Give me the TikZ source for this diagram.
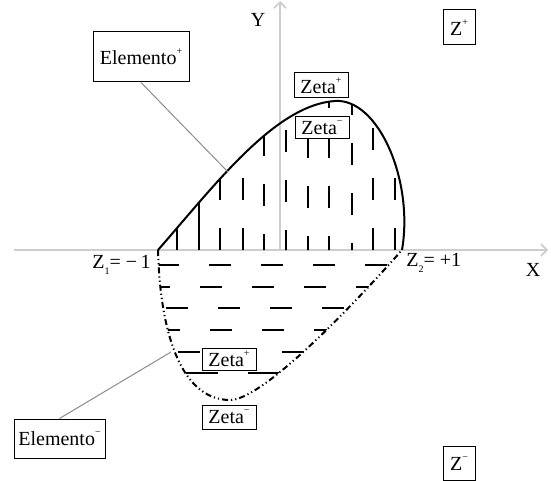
\documentclass[tikz,border=0pt]{standalone}
\usepackage{fontspec}
\setmainfont{Liberation Serif}
\definecolor{axisgray}{RGB}{205, 205, 205}
\definecolor{leadgray}{RGB}{140, 140, 140}
\usetikzlibrary{
    arrows.meta,
    positioning,
    calc
}
\newcommand{\upmark}[1]{\raisebox{1.1ex}{\fontsize{5}{5}\selectfont #1}}
\newcommand{\dnmark}[1]{\raisebox{-0.6ex}{\fontsize{5}{5}\selectfont #1}}
\tikzset{
    labelbox/.style={draw=black, line width=0.5pt, fill=white, inner sep=0.5pt,
        font=\fontsize{10}{12}\selectfont},
    plaintext/.style={inner sep=0pt, font=\fontsize{10}{12}\selectfont},
    hatchline/.style={line width=0.75pt},
    leader/.style={draw=leadgray, line width=0.5pt},
    axisline/.style={draw=axisgray, line width=0.8pt, -{Straight Barb[length=3pt,width=6pt]}}
}

\begin{document}
\begin{tikzpicture}[x=0.5pt, y=-0.5pt]
    \useasboundingbox (0,0) rectangle (551,481);

    % Axes
    \coordinate (O) at (280,250);
    \draw[axisline] (14,250) -- (548,250);
    \draw[axisline] (O) -- (280,1);
    \node[plaintext] (ylab) at (258,20) {Y};
    \node[plaintext] (xlab) at (533,270) {X};

    % Curve ends
    \coordinate (zleft) at (158,250);
    \coordinate (zright) at (402,250);
    \coordinate (peak) at (335,101);
    \coordinate (bottom) at (230,400);

    % Upper half: vertical hatching
    \begin{scope}
        \clip (zleft) .. controls (215,185) and (275,105) .. (peak)
            .. controls (378,98) and (414,180) .. (zright) -- cycle;
        \draw[hatchline] (177,250) -- (177,200);
        \draw[hatchline] (199,250) -- (199,180);
        \foreach \x/\y in {220/250, 243/250, 264/256, 286/252, 308/258, 329/258, 352/265, 373/250, 395/250}
            \draw[hatchline, dash pattern=on 11pt off 14pt] (\x,\y) -- (\x,90);
    \end{scope}

    % Lower half: horizontal hatching
    \begin{scope}
        \clip (zleft) .. controls (160,330) and (180,400) .. (bottom)
            .. controls (260,400) and (340,320) .. (zright) -- cycle;
        \foreach \s/\y in {105/265, 96/287, 114/308, 106/330, 126/352}
            \draw[hatchline, dash pattern=on 11pt off 15pt] (\s,\y) -- (420,\y);
        \draw[hatchline, dash pattern=on 17.5pt off 15pt] (118,373) -- (420,373);
    \end{scope}

    % Upper curve (solid)
    \draw[line width=1pt] (zleft) .. controls (215,185) and (275,105) .. (peak)
        .. controls (378,98) and (414,180) .. (zright);

    % Lower curve (dash dot dot)
    \draw[line width=1pt, dash pattern=on 3pt off 1.5pt on 0.6pt off 1.5pt on 0.6pt off 1.5pt]
        (zleft) .. controls (160,330) and (180,400) .. (bottom)
        .. controls (260,400) and (340,320) .. (zright);

    % End points
    \node[plaintext, anchor=east] (zone) at (151,265) {Z\dnmark{1}= −\,1};
    \node[plaintext, anchor=west] (ztwo) at (406,263) {Z\dnmark{2}= +1};

    % Labels
    \node[labelbox, minimum width=48pt, minimum height=25pt] (elemplus) at (141,57) {Elemento\upmark{+}};
    \node[labelbox, minimum width=45.5pt, minimum height=19.5pt] (elemminus) at (59.5,438.5) {Elemento\upmark{−}};
    \node[labelbox, minimum width=27pt, minimum height=12.5pt] (zetaplustop) at (321,85.5) {Zeta\upmark{+}};
    \node[labelbox, minimum width=27pt, minimum height=10.5pt] (zetaminustop) at (322,127.5) {Zeta\upmark{−}};
    \node[labelbox, minimum width=27pt, minimum height=11pt] (zetaplusbot) at (229,359) {Zeta\upmark{+}};
    \node[labelbox, minimum width=27pt, minimum height=12pt] (zetaminusbot) at (229,417) {Zeta\upmark{−}};
    \node[labelbox, minimum width=16pt, minimum height=17.5pt] (zplus) at (459,27.5) {Z\upmark{+}};
    \node[labelbox, minimum width=16pt, minimum height=17pt] (zminus) at (459,463.5) {Z\upmark{−}};

    % Leaders
    \coordinate (elp) at (228,172);
    \coordinate (elm) at (171,352);
    \draw[leader] (elemplus.south) -- (elp);
    \draw[leader] (elemminus.north) -- (elm);
\end{tikzpicture}
\end{document}
